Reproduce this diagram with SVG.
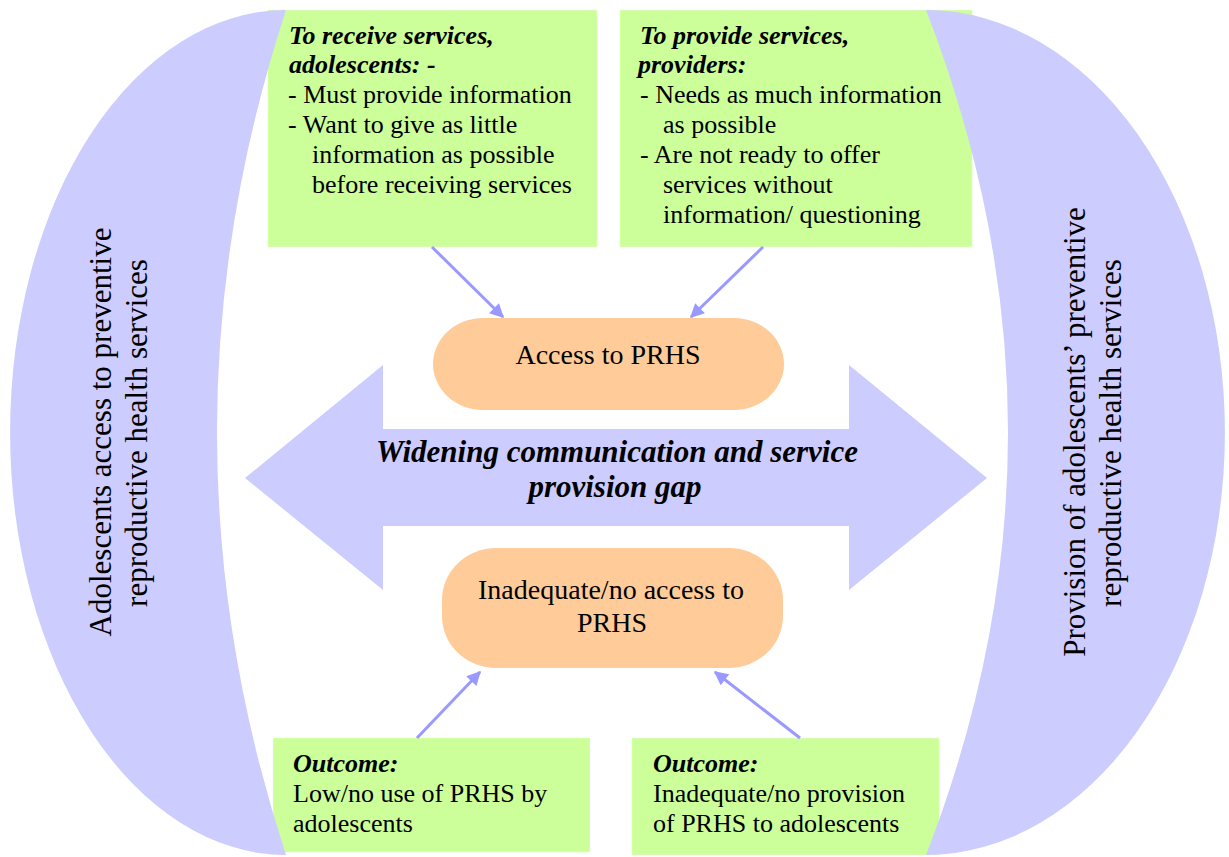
<svg xmlns="http://www.w3.org/2000/svg" width="1229" height="857" viewBox="0 0 1229 857">
  <style>
    .t { font-family: "Liberation Serif", "Times New Roman", serif; fill: #000; }
    .box { font-size: 26px; }
    .bi { font-weight: bold; font-style: italic; }
    .green { fill: #CCFF99; stroke: #E4FFCC; stroke-width: 1; stroke-dasharray: 1 1; }
    .pill { fill: #FFCC99; }
    .purple { fill: #CCCCFF; }
    .conn { stroke: #9999FF; stroke-width: 3; fill: none; marker-end: url(#ah); }
  </style>
  <defs>
    <marker id="ah" viewBox="0 0 10 10" refX="9" refY="5" markerWidth="16" markerHeight="14" markerUnits="userSpaceOnUse" orient="auto">
      <path d="M0,0 L10,5 L0,10 Z" fill="#9999FF"/>
    </marker>
  </defs>
  <rect width="1229" height="857" fill="#FFFFFF"/>

  <g id="gap-arrow">
    <polygon class="purple" points="245,478 383,365 383,429 849,429 849,365 987,478 849,590 849,526 383,526 383,590"/>
    <text class="t bi" font-size="31" text-anchor="middle"><tspan x="617" y="462">Widening communication and service</tspan><tspan x="615" y="497">provision gap</tspan></text>
  </g>

  <g id="access">
    <rect class="pill" x="433" y="318" width="351" height="92" rx="50" ry="46"/>
    <text class="t" font-size="28" text-anchor="middle" x="608" y="364">Access to PRHS</text>
  </g>

  <g id="no-access">
    <rect class="pill" x="442" y="548" width="341" height="120" rx="54" ry="52"/>
    <text class="t" font-size="28" text-anchor="middle"><tspan x="611" y="599">Inadequate/no access to</tspan><tspan x="612" y="632">PRHS</tspan></text>
  </g>

  <g id="adolescents-box">
    <rect class="green" x="268" y="10" width="329" height="237"/>
    <text class="t box">
      <tspan class="bi" x="289" y="44">To receive services,</tspan>
      <tspan class="bi" x="289" y="73">adolescents: -</tspan>
      <tspan x="288" y="103">- Must provide information</tspan>
      <tspan x="288" y="133">- Want to give as little</tspan>
      <tspan x="312" y="163">information as possible</tspan>
      <tspan x="312" y="193">before receiving services</tspan>
    </text>
  </g>

  <g id="providers-box">
    <rect class="green" x="620" y="10" width="352" height="237"/>
    <text class="t box">
      <tspan class="bi" x="640" y="44">To provide services,</tspan>
      <tspan class="bi" x="638" y="73">providers:</tspan>
      <tspan x="640" y="103">-  Needs as much information</tspan>
      <tspan x="663" y="133">as possible</tspan>
      <tspan x="640" y="163">-  Are not ready to offer</tspan>
      <tspan x="663" y="193">services without</tspan>
      <tspan x="663" y="223">information/ questioning</tspan>
    </text>
  </g>

  <g id="outcome-adolescents">
    <rect class="green" x="273" y="738" width="317" height="114"/>
    <text class="t box">
      <tspan class="bi" x="293" y="772">Outcome:</tspan>
      <tspan x="293" y="802">Low/no use of PRHS by</tspan>
      <tspan x="293" y="832">adolescents</tspan>
    </text>
  </g>

  <g id="outcome-providers">
    <rect class="green" x="632" y="738" width="307" height="117"/>
    <text class="t box">
      <tspan class="bi" x="653" y="772">Outcome:</tspan>
      <tspan x="653" y="802">Inadequate/no provision</tspan>
      <tspan x="653" y="832">of PRHS to adolescents</tspan>
    </text>
  </g>

  <g id="adolescents-side">
    <path class="purple" d="M286,10 A276,422.5 0 0 0 286,855 Q148,432.5 286,10 Z"/>
    <text class="t" font-size="31" text-anchor="middle" transform="translate(111,432) rotate(-90)">Adolescents access to preventive</text>
    <text class="t" font-size="31" text-anchor="middle" transform="translate(147,433) rotate(-90)">reproductive health services</text>
  </g>

  <g id="providers-side">
    <path class="purple" d="M926,10 A299,422.5 0 0 1 926,855 Q1090,432.5 926,10 Z"/>
    <text class="t" font-size="31" text-anchor="middle" transform="translate(1085,432) rotate(-90)">Provision of adolescents’ preventive</text>
    <text class="t" font-size="31" text-anchor="middle" transform="translate(1121,433) rotate(-90)">reproductive health services</text>
  </g>

  <g id="connectors">
    <line class="conn" x1="432" y1="247" x2="503" y2="317"/>
    <line class="conn" x1="763" y1="247" x2="691" y2="317"/>
    <line class="conn" x1="417" y1="738" x2="480" y2="672"/>
    <line class="conn" x1="800" y1="738" x2="715" y2="672"/>
  </g>
</svg>
